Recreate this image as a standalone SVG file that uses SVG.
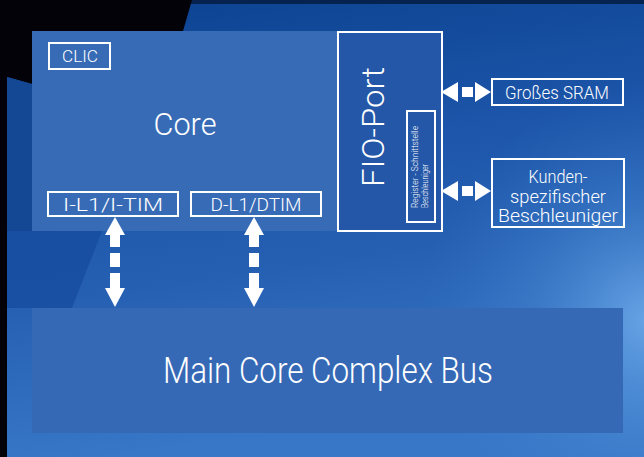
<svg xmlns="http://www.w3.org/2000/svg" width="644" height="457" viewBox="0 0 644 457">
  <defs>
    <linearGradient id="bgGrad" x1="0" y1="0" x2="0.2" y2="1">
      <stop offset="0" stop-color="#0b418f"/>
      <stop offset="0.4" stop-color="#1c55a9"/>
      <stop offset="0.65" stop-color="#2660b3"/>
      <stop offset="1" stop-color="#3877c7"/>
    </linearGradient>
    <radialGradient id="glow" cx="650" cy="320" r="230" gradientUnits="userSpaceOnUse">
      <stop offset="0" stop-color="#6eaaea" stop-opacity="0.9"/>
      <stop offset="0.5" stop-color="#4d8ed6" stop-opacity="0.4"/>
      <stop offset="1" stop-color="#3a7acc" stop-opacity="0"/>
    </radialGradient>
    <style>
      .box { stroke: #ffffff; stroke-width: 2; fill: none; }
      .lbl { fill: #ffffff; font-family: Roboto, "Open Sans", "Liberation Sans", sans-serif; font-weight: 300; }
      .arrow { fill: #ffffff; }
    </style>
  </defs>

  <!-- backdrop -->
  <rect x="0" y="0" width="644" height="457" fill="url(#bgGrad)"/>
  <rect x="0" y="0" width="644" height="457" fill="url(#glow)"/>
  <rect x="0" y="0" width="644" height="4" fill="#06234f"/>
  <polygon points="7,231 102,231 72,308 7,308" fill="#164a9c" opacity="0.7"/>
  <polygon points="0,0 192,0 183,31 32,31 32,84 7,77 7,457 0,457" fill="#020208"/>
  <polygon points="7,77 32,84 32,231 7,231" fill="#154894"/>

  <!-- Core -->
  <g id="core">
    <rect x="32" y="31" width="306" height="200" fill="#386bb6"/>
    <text class="lbl" x="185" y="135" font-size="31" text-anchor="middle" textLength="63" lengthAdjust="spacingAndGlyphs">Core</text>
  </g>

  <g id="clic">
    <rect class="box" x="49" y="43" width="61" height="26"/>
    <text class="lbl" x="80" y="62" font-size="17" text-anchor="middle" textLength="36" lengthAdjust="spacingAndGlyphs">CLIC</text>
  </g>

  <g id="il1">
    <rect class="box" x="48" y="192" width="130" height="24"/>
    <text class="lbl" x="113" y="211" font-size="18" text-anchor="middle" textLength="100" lengthAdjust="spacingAndGlyphs">I-L1/I-TIM</text>
  </g>

  <g id="dl1">
    <rect class="box" x="191" y="192" width="130" height="24"/>
    <text class="lbl" x="256" y="211" font-size="18" text-anchor="middle" textLength="91" lengthAdjust="spacingAndGlyphs">D-L1/DTIM</text>
  </g>

  <!-- FIO-Port -->
  <g id="fio">
    <rect x="338" y="32" width="104" height="199" fill="#2457a8" stroke="#ffffff" stroke-width="2"/>
    <text class="lbl" transform="translate(384,127) rotate(-90)" font-size="31" text-anchor="middle" textLength="120" lengthAdjust="spacingAndGlyphs">FIO-Port</text>
  </g>

  <g id="regif">
    <rect class="box" x="407" y="111" width="28" height="111"/>
    <text class="lbl" transform="translate(418,208) rotate(-90)" font-size="9" font-weight="400" textLength="82" lengthAdjust="spacingAndGlyphs">Register - Schnittstelle</text>
    <text class="lbl" transform="translate(428,208) rotate(-90)" font-size="9" font-weight="400" textLength="44" lengthAdjust="spacingAndGlyphs">Beschleuniger</text>
  </g>

  <g id="sram">
    <rect class="box" x="492" y="79" width="131" height="26"/>
    <text class="lbl" x="557" y="99" font-size="18" text-anchor="middle" textLength="104" lengthAdjust="spacingAndGlyphs">Großes SRAM</text>
  </g>

  <g id="accel">
    <rect class="box" x="492" y="159" width="132" height="68"/>
    <text class="lbl" x="558" y="183" font-size="18" text-anchor="middle" textLength="59" lengthAdjust="spacingAndGlyphs">Kunden-</text>
    <text class="lbl" x="558" y="203" font-size="18" text-anchor="middle" textLength="96" lengthAdjust="spacingAndGlyphs">spezifischer</text>
    <text class="lbl" x="558" y="222" font-size="18" text-anchor="middle" textLength="120" lengthAdjust="spacingAndGlyphs">Beschleuniger</text>
  </g>

  <!-- Bus -->
  <g id="bus">
    <rect x="32" y="308" width="591" height="125" fill="#3569b6"/>
    <text class="lbl" x="328" y="383" font-size="37" text-anchor="middle" textLength="330" lengthAdjust="spacingAndGlyphs">Main Core Complex Bus</text>
  </g>

  <!-- connectors -->
  <g id="connectors" class="arrow">
    <!-- I-L1 to bus -->
    <polygon points="115,217 125,235 105,235"/>
    <rect x="110" y="235" width="10" height="12"/>
    <rect x="110" y="253" width="10" height="14"/>
    <rect x="110" y="273" width="10" height="15"/>
    <polygon points="105,288 125,288 115,307"/>
    <!-- D-L1 to bus -->
    <polygon points="254,217 264,235 244,235"/>
    <rect x="249" y="235" width="10" height="12"/>
    <rect x="249" y="253" width="10" height="14"/>
    <rect x="249" y="273" width="10" height="15"/>
    <polygon points="244,288 264,288 254,307"/>
    <!-- FIO to SRAM -->
    <polygon points="441,92 458,82 458,102"/>
    <rect x="462" y="87" width="11" height="10"/>
    <polygon points="475,82 491,92 475,102"/>
    <!-- FIO to accelerator -->
    <polygon points="441,191 458,181 458,201"/>
    <rect x="462" y="186" width="11" height="10"/>
    <polygon points="475,181 491,191 475,201"/>
  </g>
</svg>
